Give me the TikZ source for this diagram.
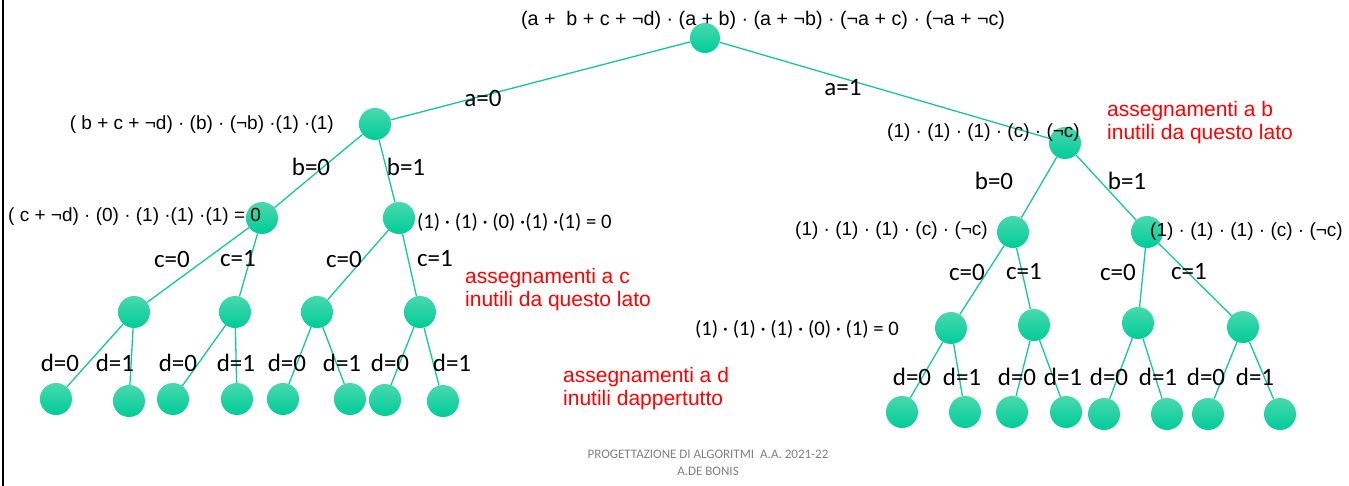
\documentclass[tikz,border=0pt]{standalone}
\usepackage{fontspec}
\setmainfont{Liberation Sans}
\newfontfamily\calibri{Carlito}
\definecolor{menta}{RGB}{0,204,153}
\definecolor{mentachiaro}{RGB}{72,217,174}
\definecolor{ramocol}{RGB}{20,200,155}
\tikzset{%
		nodo/.style={circle,minimum size=32pt,inner sep=0pt,top color=mentachiaro,bottom color=menta},
		ramo/.style={draw,color=ramocol,line width=1.3pt},
		scelta/.style={font=\calibri\fontsize{25}{27}\selectfont,inner sep=0pt},
		formula/.style={font=\fontsize{19}{21}\selectfont,inner sep=0pt},
		formulab/.style={font=\calibri\fontsize{20.7}{22}\selectfont,inner sep=0pt},
		nota/.style={font=\fontsize{21}{23}\selectfont,text=red,align=left,inner sep=0pt,anchor=west}
	}
\begin{document}
\begin{tikzpicture}[x=1pt,y=-1pt]
    \useasboundingbox (0,0) rectangle (1349,486);
    \draw[line width=2pt] (3,0) -- (3,486);
    % nodi
    \node[nodo,minimum size=30pt] (r) at (705,38) {};
    \node[nodo] (l) at (375,124) {};
    \node[nodo] (d) at (1065,143) {};
    \node[nodo] (ll) at (262,218) {};
    \node[nodo] (lr) at (399,218) {};
    \node[nodo] (dl) at (1013,232) {};
    \node[nodo] (dr) at (1147,232) {};
    \node[nodo] (lll) at (134,312) {};
    \node[nodo] (llr) at (235,312) {};
    \node[nodo] (lrl) at (317,312) {};
    \node[nodo] (lrr) at (420,312) {};
    \node[nodo] (dll) at (951,328) {};
    \node[nodo] (dlr) at (1034,325) {};
    \node[nodo] (drl) at (1138,323) {};
    \node[nodo] (drr) at (1243,327) {};
    \node[nodo] (f1) at (56,399) {};
    \node[nodo] (f2) at (129,401) {};
    \node[nodo] (f3) at (173,399) {};
    \node[nodo] (f4) at (237,399) {};
    \node[nodo] (f5) at (283,399) {};
    \node[nodo] (f6) at (350,399) {};
    \node[nodo] (f7) at (385,400) {};
    \node[nodo] (f8) at (443,401) {};
    \node[nodo] (g1) at (902,412) {};
    \node[nodo] (g2) at (965,412) {};
    \node[nodo] (g3) at (1012,412) {};
    \node[nodo] (g4) at (1066,412) {};
    \node[nodo] (g5) at (1104,414) {};
    \node[nodo] (g6) at (1167,414) {};
    \node[nodo] (g7) at (1208,414) {};
    \node[nodo] (g8) at (1280,414) {};
    % rami
    \draw[ramo] (r) -- (l) (r) -- (d);
    \draw[ramo] (l) -- (ll) (l) -- (lr) (d) -- (dl) (d) -- (dr);
    \draw[ramo] (ll) -- (lll) (ll) -- (llr) (lr) -- (lrl) (lr) -- (lrr);
    \draw[ramo] (dl) -- (dll) (dl) -- (dlr) (dr) -- (drl) (dr) -- (drr);
    \draw[ramo] (lll) -- (f1) (lll) -- (f2) (llr) -- (f3) (llr) -- (f4);
    \draw[ramo] (lrl) -- (f5) (lrl) -- (f6) (lrr) -- (f7) (lrr) -- (f8);
    \draw[ramo] (dll) -- (g1) (dll) -- (g2) (dlr) -- (g3) (dlr) -- (g4);
    \draw[ramo] (drl) -- (g5) (drl) -- (g6) (drr) -- (g7) (drr) -- (g8);
    % assegnamenti
    \node[scelta] (a0) at (483,98) {a=0};
    \node[scelta] (a1) at (843,88) {a=1};
    \node[scelta] (b0l) at (311,167) {b=0};
    \node[scelta] (b1l) at (406,167) {b=1};
    \node[scelta] (b0d) at (994,181) {b=0};
    \node[scelta] (b1d) at (1127,181) {b=1};
    \node[scelta] (c1) at (172,259) {c=0};
    \node[scelta] (c2) at (238,259) {c=1};
    \node[scelta] (c3) at (344,259) {c=0};
    \node[scelta] (c4) at (435,259) {c=1};
    \node[scelta] (c5) at (967,272) {c=0};
    \node[scelta] (c6) at (1024,272) {c=1};
    \node[scelta] (c7) at (1118,272) {c=0};
    \node[scelta] (c8) at (1189,272) {c=1};
    \node[scelta] (e1) at (60,363) {d=0};
    \node[scelta] (e2) at (115,363) {d=1};
    \node[scelta] (e3) at (178,363) {d=0};
    \node[scelta] (e4) at (236,363) {d=1};
    \node[scelta] (e5) at (287,363) {d=0};
    \node[scelta] (e6) at (342,363) {d=1};
    \node[scelta] (e7) at (390,363) {d=0};
    \node[scelta] (e8) at (452,363) {d=1};
    \node[scelta] (h1) at (912,377) {d=0};
    \node[scelta] (h2) at (962,377) {d=1};
    \node[scelta] (h3) at (1017,377) {d=0};
    \node[scelta] (h4) at (1063,377) {d=1};
    \node[scelta] (h5) at (1109,377) {d=0};
    \node[scelta] (h6) at (1158,377) {d=1};
    \node[scelta] (h7) at (1206,377) {d=0};
    \node[scelta] (h8) at (1255,377) {d=1};
    % formule
    \node[formula,font=\fontsize{19.7}{21}\selectfont] (fr) at (763,20) {(a +\ \ b + c + ¬d) · (a + b) · (a + ¬b) · (¬a + c) · (¬a + ¬c)};
    \node[formula,anchor=east] (fl) at (334,125) {( b + c + ¬d) · (b) · (¬b) ·(1) ·(1)};
    \node[formula,anchor=west] (fll) at (8,217) {( c + ¬d) · (0) · (1) ·(1) ·(1) = 0};
    \node[formulab,anchor=west] (flr) at (417,222) {(1) · (1) · (0) ·(1) ·(1) = 0};
    \node[formula,anchor=east] (fd) at (1080,133) {(1) · (1) · (1) · (c) · (¬c)};
    \node[formula,anchor=east] (fdl) at (988,231) {(1) · (1) · (1) · (c) · (¬c)};
    \node[formula,anchor=west] (fdr) at (1150,232) {(1) · (1) · (1) · (c) · (¬c)};
    \node[formulab,anchor=west] (fdll) at (695,329) {(1) · (1) · (1) · (0) · (1) = 0};
    % note
    \node[nota] (nb) at (1107,123) {assegnamenti a b\\inutili da questo lato};
    \node[nota] (nc) at (465,290) {assegnamenti a c\\inutili da questo lato};
    \node[nota] (nd) at (563,389) {assegnamenti a d\\inutili dappertutto};
    \node[font=\calibri\fontsize{13}{17}\selectfont,text=gray,align=center,inner sep=0pt] (piede) at (708,463) {PROGETTAZIONE DI ALGORITMI\ \ A.A. 2021-22\\A.DE BONIS};
\end{tikzpicture}
\end{document}
